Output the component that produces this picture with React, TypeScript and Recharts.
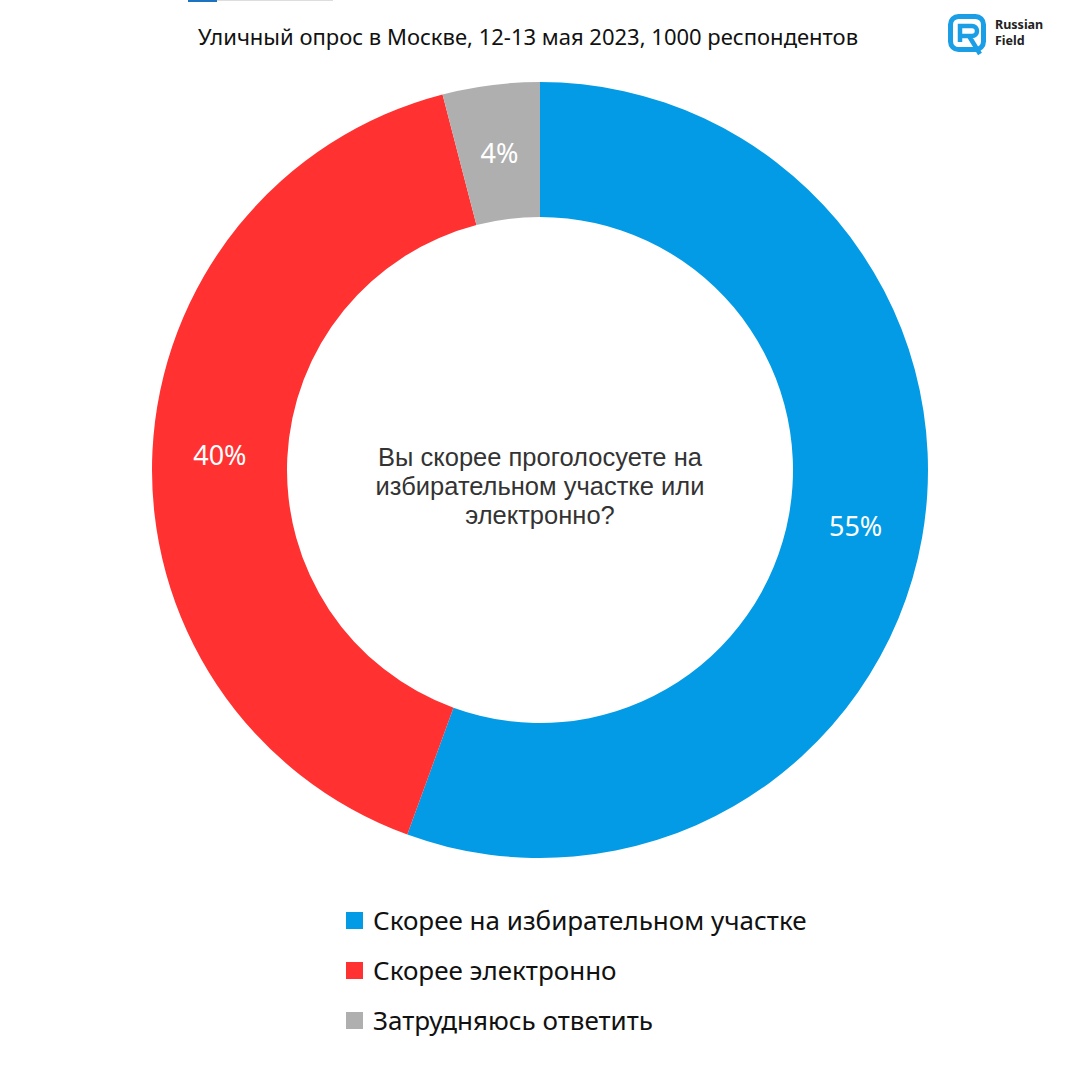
import React from "react";
import { PieChart, Pie, Cell, Legend } from "recharts";

const categories = ["Скорее на избирательном участке", "Скорее электронно", "Затрудняюсь ответить"];
const values = [55, 40, 4];
const colors = ["#039BE5", "#FF3131", "#AFAFAF"];
const questionLines = ["Вы скорее проголосуете на", "избирательном участке или", "электронно?"];

const data = categories.map((name, i) => ({ name, value: values[i] }));

const FONT = "'Noto Sans', 'Open Sans', sans-serif";
const Q_FONT = "'Liberation Sans', Arial, sans-serif";
const RAD = Math.PI / 180;

const renderLabel = (props: any) => {
  const { cx, cy, midAngle, innerRadius, outerRadius, value } = props;
  const r = (innerRadius + outerRadius) / 2;
  const x = cx + r * Math.cos(-midAngle * RAD);
  const y = cy + r * Math.sin(-midAngle * RAD);
  return (
    <text x={x} y={y} fill="#ffffff" textAnchor="middle" dominantBaseline="central" fontSize={27} fontFamily={FONT}>
      {`${value}%`}
    </text>
  );
};

const renderLegend = () => (
  <div style={{ fontFamily: FONT }}>
    {data.map((d, i) => (
      <div key={d.name} style={{ display: "flex", alignItems: "center", height: 50 }}>
        <div style={{ width: 17, height: 17, background: colors[i], marginRight: 10 }} />
        <span style={{ fontSize: 26, color: "#111", lineHeight: "34px" }}>{d.name}</span>
      </div>
    ))}
  </div>
);

export default function App() {
  return (
    <div style={{ position: "absolute", left: 0, top: 0, width: 1079, height: 1080, background: "#fff", overflow: "hidden" }}>
      <div style={{ position: "absolute", left: 188, top: 0, width: 29, height: 2, background: "#1E73BE" }} />
      <div style={{ position: "absolute", left: 217, top: 0, width: 116, height: 1, background: "#ddd" }} />
      <PieChart width={1079} height={1080} margin={{ top: 0, right: 0, bottom: 0, left: 0 }}>
        <Pie
          data={data}
          dataKey="value"
          nameKey="name"
          cx={540}
          cy={470}
          innerRadius={253}
          outerRadius={388}
          startAngle={90}
          endAngle={-270}
          stroke="none"
          label={renderLabel}
          labelLine={false}
          isAnimationActive={false}
        >
          {data.map((d, i) => (
            <Cell key={d.name} fill={colors[i]} />
          ))}
        </Pie>
        <Legend content={renderLegend} wrapperStyle={{ position: "absolute", left: 346, top: 895, width: 600 }} />
      </PieChart>
      <div style={{ position: "absolute", left: 0, top: 21, width: 1056, textAlign: "center", fontFamily: FONT, fontSize: 22, color: "#111" }}>
        Уличный опрос в Москве, 12-13 мая 2023, 1000 респондентов
      </div>
      <svg style={{ position: "absolute", left: 948, top: 14 }} width={40} height={42} viewBox="0 0 40 42">
        <rect x={2.5} y={2.5} width={33} height={33} rx={8} fill="none" stroke="#1A9FE6" strokeWidth={5} />
        <path d="M12 28 V12 H24 a5 5 0 0 1 0 10 H14 M21 22 L32 40" fill="none" stroke="#1A9FE6" strokeWidth={4.5} />
      </svg>
      <div style={{ position: "absolute", left: 995, top: 17, fontFamily: FONT, fontSize: 12.5, fontWeight: 700, color: "#222", lineHeight: "16px" }}>
        Russian<br />Field
      </div>
      {questionLines.map((line, i) => (
        <div
          key={line}
          style={{
            position: "absolute",
            left: 290,
            top: 443 + i * 29,
            width: 500,
            height: 29,
            textAlign: "center",
            fontFamily: Q_FONT,
            fontSize: 25.5,
            lineHeight: "29px",
            color: "#333",
          }}
        >
          {line}
        </div>
      ))}
    </div>
  );
}
